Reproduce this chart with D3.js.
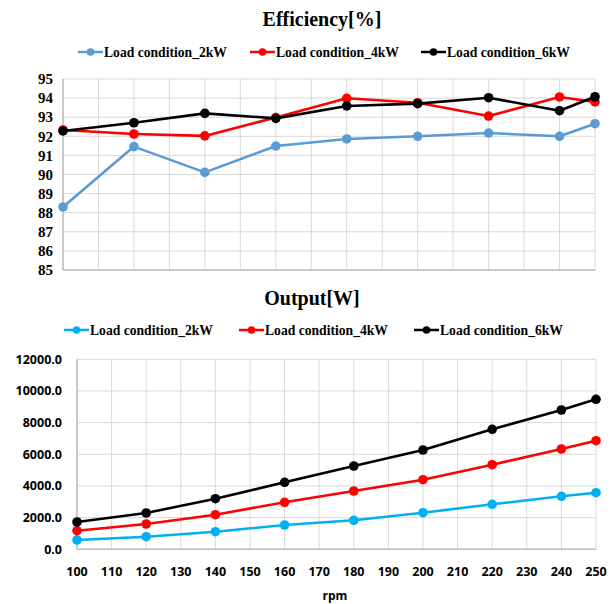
<!DOCTYPE html>
<html>
<head>
<meta charset="utf-8">
<script src="https://cdn.jsdelivr.net/npm/d3@7"></script>
<style>
  body { margin: 0; background: #fff; }
  svg { display: block; }
</style>
</head>
<body>
<div id="chart"></div>
<script>
// rpm values (x)
const rpm = [100, 120, 140, 160, 180, 200, 220, 240, 250];
const seriesNames = ['Load condition_2kW', 'Load condition_4kW', 'Load condition_6kW'];

// Efficiency [%]
const eff2kW = [88.30, 91.46, 90.11, 91.49, 91.86, 92.00, 92.17, 92.00, 92.66];
const eff4kW = [92.33, 92.12, 92.02, 92.98, 93.99, 93.76, 93.06, 94.06, 93.80];
const eff6kW = [92.28, 92.71, 93.20, 92.94, 93.59, 93.71, 94.02, 93.34, 94.07];

// Output [W]
const out2kW = [587, 796, 1112, 1535, 1832, 2312, 2842, 3347, 3575];
const out4kW = [1175, 1598, 2185, 2968, 3682, 4396, 5343, 6335, 6859];
const out6kW = [1724, 2293, 3196, 4232, 5261, 6272, 7579, 8798, 9474];

const effTicks = [85, 86, 87, 88, 89, 90, 91, 92, 93, 94, 95];
const outTicks = [0, 2000, 4000, 6000, 8000, 10000, 12000];
const xTicks = d3.range(100, 251, 10);

const svg = d3.select('#chart')
    .append('svg')
    .attr('width', 612)
    .attr('height', 604);

const serif = '"Liberation Serif", "Times New Roman", serif';
const sans = '"Open Sans", "Liberation Sans", sans-serif';
const gridColor = '#d9d9d9';
const axisColor = '#bfbfbf';

function drawPanel(opts) {
    const x = d3.scaleLinear().domain([100, 250]).range([opts.left, opts.right]);
    const y = d3.scaleLinear().domain(opts.yDomain).range([opts.bottom, opts.top]);
    const g = svg.append('g');

    // Title
    g.append('text')
        .attr('x', opts.titleX)
        .attr('y', opts.titleY)
        .attr('text-anchor', 'middle')
        .style('font-family', serif)
        .style('font-weight', 'bold')
        .style('font-size', '20px')
        .style('fill', '#000')
        .text(opts.title);

    // Legend
    opts.legendX.forEach((lx, i) => {
        const lg = g.append('g');
        lg.append('line')
            .attr('x1', lx).attr('x2', lx + 25)
            .attr('y1', opts.legendY).attr('y2', opts.legendY)
            .attr('stroke', opts.colors[i])
            .attr('stroke-width', 2.5);
        lg.append('circle')
            .attr('cx', lx + 12.5).attr('cy', opts.legendY)
            .attr('r', 3.8)
            .attr('fill', opts.colors[i]);
        lg.append('text')
            .attr('x', lx + 26)
            .attr('y', opts.legendY + 5)
            .attr('textLength', 123)
            .attr('lengthAdjust', 'spacingAndGlyphs')
            .style('font-family', serif)
            .style('font-weight', 'bold')
            .style('font-size', '15.5px')
            .style('fill', '#000')
            .text(seriesNames[i]);
    });

    // Horizontal grid
    g.append('g')
        .selectAll('line')
        .data(opts.yTicks)
        .join('line')
        .attr('x1', opts.left).attr('x2', opts.right)
        .attr('y1', d => y(d)).attr('y2', d => y(d))
        .attr('stroke', gridColor)
        .attr('stroke-width', 1);

    // Vertical grid
    g.append('g')
        .selectAll('line')
        .data(xTicks)
        .join('line')
        .attr('x1', d => x(d)).attr('x2', d => x(d))
        .attr('y1', opts.top).attr('y2', opts.bottom)
        .attr('stroke', gridColor)
        .attr('stroke-width', 1);

    // Axis lines
    g.append('line')
        .attr('x1', opts.left).attr('x2', opts.right)
        .attr('y1', opts.bottom).attr('y2', opts.bottom)
        .attr('stroke', axisColor).attr('stroke-width', 1.5);
    g.append('line')
        .attr('x1', opts.left).attr('x2', opts.left)
        .attr('y1', opts.top).attr('y2', opts.bottom)
        .attr('stroke', axisColor).attr('stroke-width', 1.5);

    // Y tick labels
    g.append('g')
        .selectAll('text')
        .data(opts.yTicks)
        .join('text')
        .attr('x', opts.yLabelX)
        .attr('y', d => y(d))
        .attr('dy', '0.35em')
        .attr('text-anchor', 'end')
        .style('font-family', opts.tickFont)
        .style('font-weight', 'bold')
        .style('font-size', opts.tickSize)
        .style('fill', '#000')
        .text(opts.yFormat);

    // Lines and markers
    const line = d3.line()
        .x((d, i) => x(rpm[i]))
        .y(d => y(d));

    opts.series.forEach((vals, i) => {
        g.append('path')
            .datum(vals)
            .attr('d', line)
            .attr('fill', 'none')
            .attr('stroke', opts.colors[i])
            .attr('stroke-width', 2.6)
            .attr('stroke-linejoin', 'round');
        g.append('g')
            .selectAll('circle')
            .data(vals)
            .join('circle')
            .attr('cx', (d, j) => x(rpm[j]))
            .attr('cy', d => y(d))
            .attr('r', 4.8)
            .attr('fill', opts.colors[i]);
    });

    return { x, y, g };
}

// Efficiency panel
drawPanel({
    title: 'Efficiency[%]',
    titleX: 322,
    titleY: 26,
    legendX: [78, 250, 421],
    legendY: 52,
    left: 63, right: 595, top: 79, bottom: 270,
    yDomain: [85, 95],
    yTicks: effTicks,
    yLabelX: 53,
    yFormat: d => d,
    tickFont: serif,
    tickSize: '15px',
    colors: ['#5b9bd5', '#ff0000', '#000000'],
    series: [eff2kW, eff4kW, eff6kW]
});

// Output panel
const p2 = drawPanel({
    title: 'Output[W]',
    titleX: 312,
    titleY: 305,
    legendX: [64, 239, 414],
    legendY: 330,
    left: 77, right: 596, top: 359.3, bottom: 549.3,
    yDomain: [0, 12000],
    yTicks: outTicks,
    yLabelX: 62,
    yFormat: d => d3.format('.1f')(d),
    tickFont: sans,
    tickSize: '12.5px',
    colors: ['#00b0f0', '#ff0000', '#000000'],
    series: [out2kW, out4kW, out6kW]
});

// X axis labels (bottom panel)
p2.g.append('g')
    .selectAll('text')
    .data(xTicks)
    .join('text')
    .attr('x', d => p2.x(d))
    .attr('y', 576)
    .attr('text-anchor', 'middle')
    .style('font-family', sans)
    .style('font-weight', 'bold')
    .style('font-size', '12.5px')
    .style('fill', '#000')
    .text(d => d);

p2.g.append('text')
    .attr('x', 335)
    .attr('y', 600)
    .attr('text-anchor', 'middle')
    .style('font-family', sans)
    .style('font-weight', 'bold')
    .style('font-size', '12px')
    .style('fill', '#000')
    .text('rpm');
</script>
</body>
</html>
